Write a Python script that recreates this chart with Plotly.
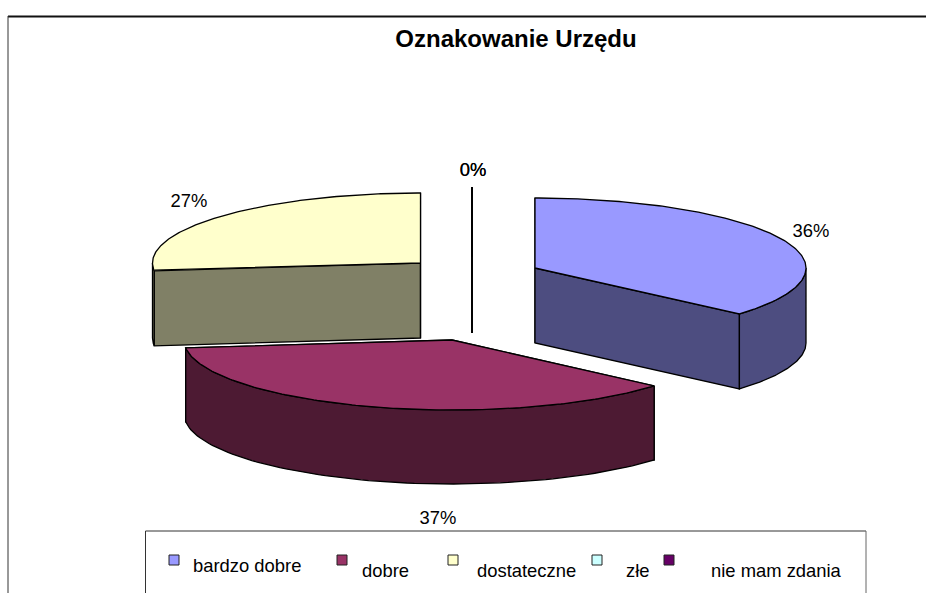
import numpy as np
import plotly.graph_objects as go

title = "Oznakowanie Urzędu"
categories = ["bardzo dobre", "dobre", "dostateczne", "złe", "nie mam zdania"]
values = [36.4, 36.8, 26.8, 0.0, 0.0]
top_colors = ["#9999FF", "#993366", "#FFFFCC", "#CCFFFF", "#660066"]
side_colors = ["#4D4D80", "#4D1A33", "#808066", "#668080", "#330033"]

# exploded-slice geometry of the projected pie (page pixels)
centers = [(535, 268), (452, 340), (420.5, 263), (472, 257), (472, 257)]
radii = [(271, 70), (268, 70), (268, 70), (268, 70), (268, 70)]
depths = [75, 74, 75, 76, 76]
draw_order = [2, 3, 4, 0, 1]
label_pos = [(811, 232), (438, 519), (189, 202), (473, 171), (473, 171)]
legend_marker_x = [174, 342, 453, 597, 669]
legend_text_x = [193, 362, 477, 626, 711]
legend_text_y = [567, 572, 572, 572, 572]
LEGEND_MARKER_Y = 560
TEXT_SIZE = 18.4

fig = go.Figure()
shares = np.array(values) / sum(values)
ends = np.cumsum(shares) * 2 * np.pi
starts = ends - shares * 2 * np.pi


def poly(xs, ys, fill):
    fig.add_trace(go.Scatter(
        x=xs, y=ys, mode="lines", fill="toself", fillcolor=fill,
        line=dict(color="#000000", width=1.3), hoverinfo="skip", showlegend=False))


for i in draw_order:
    (cx, cy), (rx, ry), d = centers[i], radii[i], depths[i]
    a0, a1 = starts[i], ends[i]
    px = lambda t: cx + rx * np.sin(t)
    py = lambda t: cy - ry * np.cos(t)
    # radial cut faces
    for a in (a0, a1):
        poly([cx, px(a), px(a), cx, cx],
             [cy, py(a), py(a) + d, cy + d, cy], side_colors[i])
    # visible part of the outer wall
    lo, hi = max(a0, np.pi / 2), min(a1, 1.5 * np.pi)
    if hi > lo:
        t = np.linspace(lo, hi, 80)
        poly(list(px(t)) + list(px(t[::-1])) + [px(t[0])],
             list(py(t)) + list(py(t[::-1]) + d) + [py(t[0])], side_colors[i])
    # top face
    t = np.linspace(a0, a1, 160)
    poly([cx] + list(px(t)) + [cx], [cy] + list(py(t)) + [cy], top_colors[i])

# percentage labels
fig.add_trace(go.Scatter(
    x=[p[0] for p in label_pos], y=[p[1] for p in label_pos], mode="text",
    text=[f"{round(v)}%" for v in values],
    textfont=dict(family="Liberation Sans", size=TEXT_SIZE, color="#000000"),
    hoverinfo="skip", showlegend=False))

# legend
fig.add_trace(go.Scatter(
    x=legend_marker_x, y=[LEGEND_MARKER_Y] * 5, mode="markers",
    marker=dict(symbol="square", size=10, color=top_colors,
                line=dict(color="#222222", width=1)),
    hoverinfo="skip", showlegend=False))
fig.add_trace(go.Scatter(
    x=legend_text_x, y=legend_text_y, mode="text", text=categories,
    textposition="middle right",
    textfont=dict(family="Liberation Sans", size=TEXT_SIZE, color="#000000"),
    hoverinfo="skip", showlegend=False))

frame = dict(type="line", xref="x", yref="y", layer="below")
fig.update_layout(
    width=926, height=593, margin=dict(l=0, r=0, t=0, b=0),
    paper_bgcolor="#FFFFFF", plot_bgcolor="#FFFFFF", showlegend=False,
    xaxis=dict(range=[0, 926], visible=False, fixedrange=True),
    yaxis=dict(range=[593, 0], visible=False, fixedrange=True),
    title=dict(text=title, x=516 / 926, xanchor="center", y=1 - 39 / 593, yanchor="middle",
               font=dict(family="Liberation Sans", size=24, color="#000000", weight="bold")),
    shapes=[
        dict(frame, x0=8, x1=926, y0=16.5, y1=16.5, line=dict(color="#111111", width=2)),
        dict(frame, x0=8, x1=8, y0=16, y1=593, line=dict(color="#333333", width=1)),
        dict(frame, x0=145.5, x1=866, y0=531, y1=531, line=dict(color="#333333", width=1)),
        dict(frame, x0=145.5, x1=145.5, y0=531, y1=593, line=dict(color="#333333", width=1)),
        dict(frame, x0=866, x1=866, y0=531, y1=593, line=dict(color="#666666", width=1)),
    ],
)
fig.write_html("out.html", config=dict(displayModeBar=False),
               post_script="document.body.style.margin='0';document.body.style.overflow='hidden';")
